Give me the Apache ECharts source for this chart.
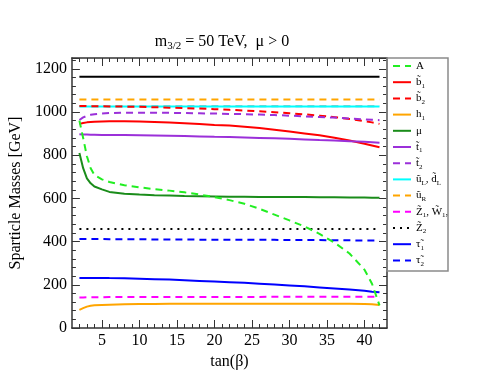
<!DOCTYPE html>
<html><head><meta charset="utf-8">
<script src="https://cdn.jsdelivr.net/npm/echarts@6/dist/echarts.min.js"></script>
<style>html,body{margin:0;padding:0;background:#fff}#c{width:501px;height:387px}</style>
</head><body><div id="c"></div>
<script>
// ---- data ----
const tanBeta = [2,2.5,3,3.5,4,5,6,8,10,12,14,16,18,20,22,24,26,28,30,32,34,36,38,40,41,42];
const flatX = [2,42];
const mA    = [960,880,795,740,708,688,676,661,651,643,636,628,618,606,592,575,552,525,498,470,436,395,345,270,205,105];
const mB1   = [945,949,952,954,955,956,957,957,956,954,951,948,944,940,937,932,926,918,910,901,892,881,868,853,845,837];
const mB2   = [1028,1028,1028,1027,1027,1027,1026,1025,1024,1022,1020,1018,1016,1013,1010,1007,1003,999,994,989,983,976,968,958,952,945];
const mH1   = [84,92,99,103,105,107,108,110,111,111,112,112,112,112,112,112,112,112,112,112,112,112,112,111,110,106];
const mMu   = [810,740,693,670,655,642,630,622,618,615,613,611,610,609,608,608,607,607,606,606,605,605,604,604,603,603];
const mT1   = [897,896,896,895,895,894,894,893,892,891,890,889,887,885,884,882,880,878,876,873,870,868,865,862,860,858];
const mT2   = [963,975,982,987,990,993,995,997,997,997,996,995,994,993,991,990,988,986,983,980,977,974,970,966,964,962];
const mZ1   = [141,141,142,142,142,142,143,143,143,143,143,144,144,144,144,144,144,145,145,145,145,145,145,145,145,145];
const mTau1 = [231,231,232,232,232,232,231,230,228,226,224,221,218,215,212,209,205,201,197,193,188,183,178,172,168,165];
const mTau2 = [412,412,412,412,412,412,411,411,411,410,410,410,409,409,409,408,408,408,407,407,407,406,406,405,405,405];
const mUL   = [1025,1025];
const mUR   = [1058,1058];
const mZ2   = [458,458];
const mGluino = [1163,1163];
const mGray = [1027,1027];
const xMajor = [5,10,15,20,25,30,35,40];
const xMinor = [2,3,4,6,7,8,9,11,12,13,14,16,17,18,19,21,22,23,24,26,27,28,29,31,32,33,34,36,37,38,39,41,42];

const legendText = {
  'A':'{n|A}',
  'b1':'{n|b\u0303}{s|1}',
  'b2':'{n|b\u0303}{s|2}',
  'h1':'{n|h}{s|1}',
  'mu':'{n|\u03bc}',
  't1':'{n|t\u0303}{s|1}',
  't2':'{n|t\u0303}{s|2}',
  'uL':'{n|\u0169}{s|L}{n|, d\u0303}{s|L}',
  'uR':'{n|\u0169}{s|R}',
  'Z1':'{n|Z\u0303}{s|1}{n|, W\u0303}{s|1}{n|,}',
  'Z2':'{n|Z\u0303}{s|2}',
  'tau1':'{n|\u03c4\u0303}{s|1}',
  'tau2':'{n|\u03c4\u0303}{s|2}'
};
const legendOrder = ['A','b1','b2','h1','mu','t1','t2','uL','uR','Z1','Z2','tau1','tau2'];

const pair = (xs, ys) => xs.map((x,i)=>[x, ys[i]]);
const FONT = 'Liberation Serif';
const DASH = [7,5];
function ser(name, xs, ys, color, type, z){
  return {name, type:'line', data: pair(xs, ys), symbol:'none', showSymbol:false,
    lineStyle:{color, width:2, type}, itemStyle:{color}, z: z||2, animation:false};
}
const series = [
  ser('gl', flatX, mGluino, '#000000', 'solid'),
  ser('gray', flatX, mGray, '#a0a0a0', DASH, 1),
  ser('uL', flatX, mUL, '#00ffff', 'solid'),
  ser('uR', flatX, mUR, '#ffa500', DASH),
  ser('b2', tanBeta, mB2, '#ff0000', DASH),
  ser('t2', tanBeta, mT2, '#9b30d9', DASH),
  ser('b1', tanBeta, mB1, '#ff0000', 'solid'),
  ser('t1', tanBeta, mT1, '#9b30d9', 'solid'),
  ser('mu', tanBeta, mMu, '#1a8c1a', 'solid'),
  ser('A', tanBeta, mA, '#22ee22', DASH, 3),
  ser('Z2', flatX, mZ2, '#000000', [2,5]),
  ser('tau2', tanBeta, mTau2, '#0000ff', DASH),
  ser('tau1', tanBeta, mTau1, '#0000ff', 'solid'),
  ser('Z1', tanBeta, mZ1, '#ff00ff', DASH),
  ser('h1', tanBeta, mH1, '#ffa500', 'solid')
];

const axisColor = '#333';
function xAx(pos, vals, len, labels, line){
  return {type:'value', position:pos, min:1, max:43, gridIndex:0,
    axisLine:{show:line, lineStyle:{color:axisColor, width:1.5}},
    axisTick:{show:true, inside:true, length:len, customValues:vals, lineStyle:{color:axisColor, width:1}},
    axisLabel:{show:labels, customValues:vals, color:'#000', fontFamily:FONT, fontSize:16, margin:5},
    splitLine:{show:false}, minorTick:{show:false},
    name: labels ? 'tan(\u03b2)' : '', nameLocation:'middle', nameGap:24,
    nameTextStyle:{color:'#000', fontFamily:FONT, fontSize:16}};
}
function yAx(pos, labels){
  return {type:'value', position:pos, min:0, max:1250, interval:200,
    axisLine:{show:true, lineStyle:{color:axisColor, width:1.5}},
    axisTick:{show:true, inside:true, length:8, lineStyle:{color:axisColor, width:1}},
    minorTick:{show:true, splitNumber:5, length:4, lineStyle:{color:axisColor, width:1}},
    axisLabel:{show:labels, color:'#000', fontFamily:FONT, fontSize:16, margin:5, formatter: v => String(v)},
    splitLine:{show:false},
    name: labels ? 'Sparticle Masses [GeV]' : '', nameLocation:'middle', nameGap:38,
    nameTextStyle:{color:'#000', fontFamily:FONT, fontSize:16}};
}

const chart = echarts.init(document.getElementById('c'), null, {renderer:'canvas'});
chart.setOption({
  animation:false,
  backgroundColor:'#fff',
  title:{text:'{m|m}{s|3/2}{m| = 50 TeV,  \u03bc > 0}', left:222, top:32, textAlign:'center', padding:0,
    textStyle:{fontWeight:'normal', rich:{m:{fontFamily:FONT, fontWeight:'normal', fontSize:16, color:'#000', lineHeight:20, verticalAlign:'middle'},
      s:{fontFamily:FONT, fontWeight:'normal', fontSize:11, color:'#000', lineHeight:11, verticalAlign:'bottom'}}}},
  grid:{left:57, right:114, top:58, bottom:59, containLabel:false},
  xAxis:[xAx('bottom', xMajor, 8, true, true), xAx('bottom', xMinor, 4, false, false),
         xAx('top', xMajor, 8, false, true), xAx('top', xMinor, 4, false, false)],
  yAxis:[yAx('left', true), yAx('right', false)],
  legend:{orient:'vertical', left:392, top:59, padding:0, itemWidth:18, itemHeight:14, itemGap:2.2,
    data:legendOrder, selectedMode:false,
    itemStyle:{color:'rgba(0,0,0,0)', borderColor:'rgba(0,0,0,0)', borderWidth:0, opacity:0},
    formatter: n => legendText[n],
    textStyle:{fontFamily:FONT, fontSize:11, color:'#000', lineHeight:14,
      rich:{n:{fontFamily:FONT, fontSize:11, color:'#000', lineHeight:14, verticalAlign:'middle'},
            s:{fontFamily:FONT, fontSize:7, color:'#000', lineHeight:8, verticalAlign:'bottom'}}}},
  graphic:[{type:'rect', shape:{x:387, y:58, width:61, height:213}, style:{fill:'none', stroke:'#8a8a8a', lineWidth:1.5}, z:100, silent:true}],
  series: series
});
</script></body></html>
